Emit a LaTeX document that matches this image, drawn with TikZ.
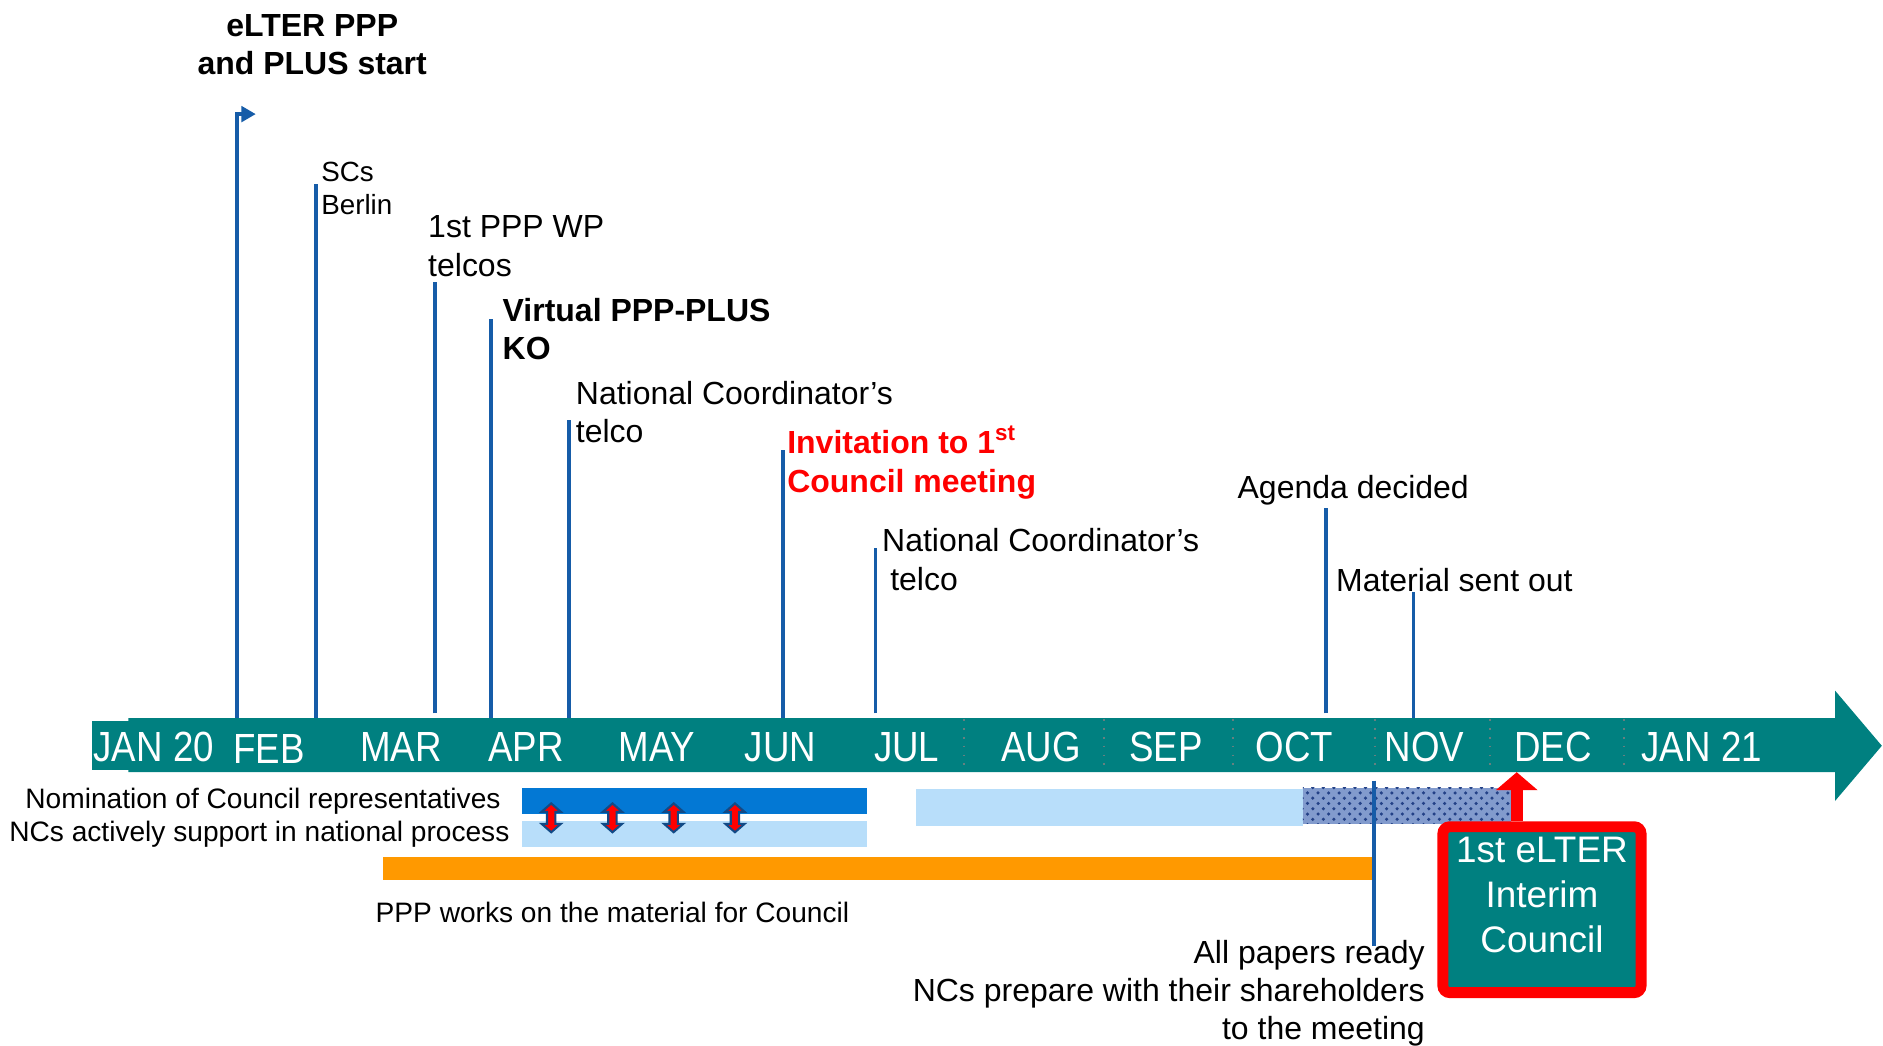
\documentclass[tikz,border=0pt]{standalone}
\usepackage{fontspec}
\setmainfont{Liberation Sans}
\newfontfamily\monthfont[FakeStretch=0.87]{Liberation Sans}
\usetikzlibrary{arrows.meta,patterns}

\definecolor{barteal}{RGB}{0,128,128}
\definecolor{markblue}{RGB}{22,92,168}
\definecolor{nomblue}{RGB}{3,120,212}
\definecolor{paleblue}{RGB}{184,222,250}
\definecolor{workorange}{RGB}{255,153,0}
\definecolor{hatchblue}{RGB}{130,155,205}
\definecolor{hatchdark}{RGB}{35,65,135}

\begin{document}
\begin{tikzpicture}[x=0.12009mm,y=-0.12009mm,
  every node/.style={inner sep=0pt},
  month/.style={text=white,font=\monthfont\fontsize{12}{14}\selectfont},
  divider/.style={draw=gray!80!barteal,dotted,line width=0.5pt},
  eventline/.style={draw=markblue,line width=1.1pt},
  eventtext/.style={anchor=west,align=left,font=\fontsize{9.1}{10.9}\selectfont},
  boldtext/.style={eventtext,font=\bfseries\fontsize{9.1}{10.9}\selectfont},
  smalltext/.style={font=\fontsize{8}{9.6}\selectfont},
  linkarrow/.style={fill=red,draw=markblue!80!black,line width=0.6pt},
  councilbox/.style={draw=red,fill=barteal,line width=3.1pt,rounded corners=2pt,
    minimum width=56.4pt,minimum height=47.2pt},
  redarrow/.style={draw=red,line width=3.4pt,-{Triangle[width=11.6pt,length=5.1pt]}}]
\useasboundingbox (0,0) rectangle (1568,871);

\fill[barteal] (77,600) rectangle (108,641);
\fill[barteal] (107,598) -- (1528,598) -- (1528,575) -- (1567,621)
  -- (1528,667) -- (1528,643) -- (107,643) -- cycle;
\foreach \x in {803,919,1027,1145,1241,1352}
  \draw[divider] (\x,599) -- (\x,642);
\foreach \x/\y/\m [count=\i] in {128/622/JAN 20,224/624/FEB,334/622/MAR,438/622/APR,
  547/622/MAY,650/622/JUN,755/622/JUL,867/622/AUG,971/622/SEP,1078/622/OCT,
  1186/622/NOV,1293/622/DEC,1417/622/JAN 21}
  \node[month] (month\i) at (\x,\y) {\m};

\fill[nomblue] (435,656) rectangle (722,678);
\fill[paleblue] (435,684) rectangle (722,705);
\fill[paleblue] (763,657) rectangle (1085,688);
\fill[hatchblue] (1085,656) rectangle (1258,686);
\fill[pattern=crosshatch dots,pattern color=hatchdark] (1085,656) rectangle (1258,686);
\fill[workorange] (319,714) rectangle (1143,733);
\foreach \x in {459,510,561,612}
  \filldraw[linkarrow] (\x,669) -- (\x+8,676) -- (\x+3.5,676) -- (\x+3.5,686)
    -- (\x+8,686) -- (\x,693) -- (\x-8,686) -- (\x-3.5,686) -- (\x-3.5,676)
    -- (\x-8,676) -- cycle;

\node[smalltext] (nomination) at (219,667) {Nomination of Council representatives};
\node[smalltext] (ncsupport) at (216,695) {NCs actively support in national process};
\node[smalltext] (pppworks) at (510,760) {PPP works on the material for Council};

\coordinate (bartop) at (0,598);
\coordinate (startflag) at (213,95);
\draw[eventline,-{Triangle[length=4.1pt,width=4.4pt]}] (197,598) |- (startflag);
\node[boldtext,anchor=center,align=center] (start) at (260,37) {eLTER PPP\\and PLUS start};

\coordinate (scstop) at (263,153);
\draw[eventline] (scstop |- bartop) -- (scstop);
\node[eventtext,font=\fontsize{7.9}{9.6}\selectfont] (scs) at (267,157) {SCs\\Berlin};

\coordinate (wptop) at (362,235);
\draw[eventline] (362,594) -- (wptop);
\node[eventtext] (wp) at (356,205) {1st PPP WP\\telcos};

\coordinate (kotop) at (409,266);
\draw[eventline] (kotop |- bartop) -- (kotop);
\node[boldtext] (ko) at (418,274) {Virtual PPP-PLUS\\KO};

\coordinate (nconetop) at (474,350);
\draw[eventline] (nconetop |- bartop) -- (nconetop);
\node[eventtext] (ncone) at (479,343) {National Coordinator’s\\telco};

\coordinate (invtop) at (652,375);
\draw[eventline] (invtop |- bartop) -- (invtop);
\node[boldtext,text=red] (invitation) at (655,385) {Invitation to 1\textsuperscript{st}\\Council meeting};

\coordinate (nctwotop) at (729,456);
\draw[eventline] (729,594) -- (nctwotop);
\node[eventtext] (nctwo) at (734,466) {National Coordinator’s\\\hspace*{2.3pt}telco};

\coordinate (agendatop) at (1104,423);
\draw[eventline] (1104,594) -- (agendatop);
\node[eventtext] (agenda) at (1030,408) {Agenda decided};

\coordinate (materialtop) at (1177,493);
\draw[eventline] (materialtop |- bartop) -- (materialtop);
\node[eventtext] (material) at (1112,483) {Material sent out};

\coordinate (paperstop) at (1144,650);
\coordinate (papersend) at (1144,788);
\draw[eventline] (paperstop) -- (papersend);
\node[eventtext,anchor=east,align=right] (papers) at (1187,827)
  {All papers ready\\NCs prepare with their shareholders\\to the meeting};

\node[councilbox] (council) at (1284,757.5) {};
\node[text=white,align=center,font=\fontsize{10.5}{12.8}\selectfont] (councilname)
  at (1284,745) {1st eLTER\\Interim\\Council};
\coordinate (dectip) at (1263,643);
\draw[redarrow] (council.north -| dectip) -- (dectip);
\end{tikzpicture}
\end{document}
